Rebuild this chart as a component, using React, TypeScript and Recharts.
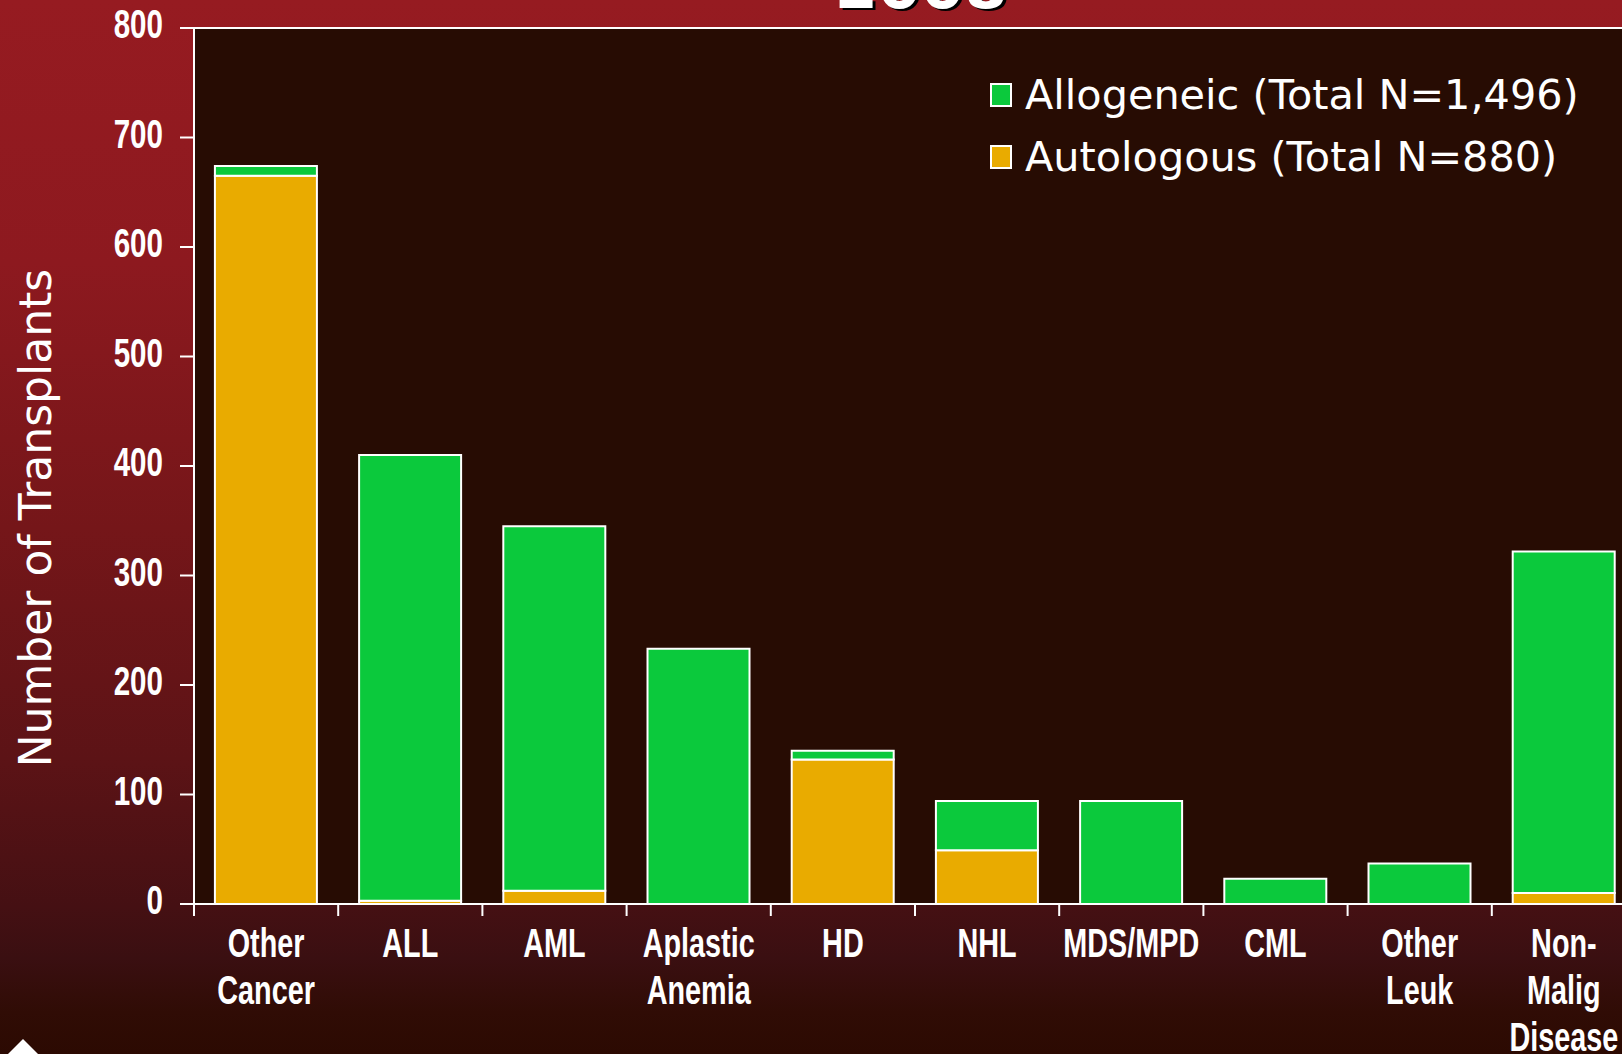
import React from "react";
import {
  BarChart,
  Bar,
  XAxis,
  YAxis,
  CartesianGrid,
  ReferenceLine,
  Legend,
} from "recharts";

// categories (line breaks as on the slide)
const categories = [
  "Other\nCancer",
  "ALL",
  "AML",
  "Aplastic\nAnemia",
  "HD",
  "NHL",
  "MDS/MPD",
  "CML",
  "Other\nLeuk",
  "Non-\nMalig\nDisease",
];
const allogeneic = [9, 407, 333, 233, 8, 45, 94, 23, 37, 312];
const autologous = [665, 3, 12, 0, 132, 49, 0, 0, 0, 10];
const yTicks = [0, 100, 200, 300, 400, 500, 600, 700, 800];
const legendLabels = ["Allogeneic (Total N=1,496)", "Autologous (Total N=880)"];
const title = "2008";

const data = categories.map((name, i) => ({
  name,
  allo: allogeneic[i],
  auto: autologous[i],
}));

const GREEN = "#0bc93c";
const ORANGE = "#e9ab00";
const PLOT_BG = "#270c03";
const NARROW = "'Liberation Sans Narrow', 'Arial Narrow', 'Liberation Sans', sans-serif";
const VERDANA = "'DejaVu Sans', Verdana, sans-serif";

const BAND = 144.2;
const AXIS_Y = 904;

function XTick(props: any) {
  const { x, payload, index } = props;
  const lines = String(payload.value).split("\n");
  return (
    <g>
      <line x1={x - BAND / 2} x2={x - BAND / 2} y1={AXIS_Y} y2={AXIS_Y + 12} stroke="#fff" strokeWidth={2} />
      {index === categories.length - 1 && (
        <line x1={x + BAND / 2} x2={x + BAND / 2} y1={AXIS_Y} y2={AXIS_Y + 12} stroke="#fff" strokeWidth={2} />
      )}
      <g transform={`translate(${x},0) scale(0.72,1)`}>
        {lines.map((l, i) => (
          <text
            key={i}
            x={0}
            y={957 + i * 47}
            textAnchor="middle"
            fill="#fff"
            fontFamily={NARROW}
            fontWeight="bold"
            fontSize={40}
          >
            {l}
          </text>
        ))}
      </g>
    </g>
  );
}

function YTick(props: any) {
  const { y, payload } = props;
  return (
    <g transform={`translate(163,${y + 10}) scale(0.74,1)`}>
      <text x={0} y={0} textAnchor="end" fill="#fff" fontFamily={NARROW} fontWeight="bold" fontSize={40}>
        {payload.value}
      </text>
    </g>
  );
}

function YLabel() {
  return (
    <text
      x={51}
      y={518}
      transform="rotate(-90, 51, 518)"
      textAnchor="middle"
      fill="#fff"
      fontFamily={VERDANA}
      fontSize={44}
    >
      Number of Transplants
    </text>
  );
}

function LegendBox() {
  const colors = [GREEN, ORANGE];
  return (
    <div>
      {legendLabels.map((t, i) => (
        <div key={t} style={{ display: "flex", alignItems: "center", height: 62 }}>
          <span
            style={{
              display: "inline-block",
              width: 18,
              height: 20,
              background: colors[i],
              border: "2px solid #fff",
              marginRight: 13,
            }}
          />
          <span style={{ color: "#fff", fontFamily: VERDANA, fontSize: 41.4, lineHeight: "62px", whiteSpace: "nowrap" }}>
            {t}
          </span>
        </div>
      ))}
    </div>
  );
}

export default function App() {
  return (
    <div
      style={{
        position: "fixed",
        left: 0,
        top: 0,
        width: 1622,
        height: 1054,
        overflow: "hidden",
        background:
          "linear-gradient(to bottom, #961b21 0%, #8d191f 25%, #751619 50%, #5c1316 72%, #451013 86%, #3a0f11 91%, #300c05 96%, #2c0a02 100%)",
      }}
    >
      <BarChart
        width={1660}
        height={1054}
        data={data}
        margin={{ top: 28, right: 24, bottom: 0, left: 0 }}
        barCategoryGap="14.5%"
      >
        <CartesianGrid horizontal={false} vertical={false} fill={PLOT_BG} />
        <XAxis
          dataKey="name"
          height={150}
          interval={0}
          tickLine={false}
          axisLine={{ stroke: "#fff", strokeWidth: 2 }}
          tick={<XTick />}
        />
        <YAxis
          width={194}
          domain={[0, 800]}
          ticks={yTicks}
          interval={0}
          tickSize={14}
          tickLine={{ stroke: "#fff", strokeWidth: 2 }}
          axisLine={{ stroke: "#fff", strokeWidth: 2 }}
          tick={<YTick />}
          label={<YLabel />}
        />
        <ReferenceLine y={800} stroke="#fff" strokeWidth={2} />
        <Legend
          layout="horizontal"
          verticalAlign="middle"
          align="center"
          content={<LegendBox />}
          wrapperStyle={{ position: "absolute", top: 64, left: 990, width: 630, height: 124 }}
        />
        <Bar dataKey="auto" stackId="a" fill={ORANGE} stroke="#fff" strokeWidth={2} isAnimationActive={false} />
        <Bar dataKey="allo" stackId="a" fill={GREEN} stroke="#fff" strokeWidth={2} isAnimationActive={false} />
      </BarChart>
      <svg
        width={1622}
        height={1054}
        style={{ position: "absolute", left: 0, top: 0, pointerEvents: "none" }}
      >
        <text x={924} y={10} textAnchor="middle" fill="#000" fontFamily={VERDANA} fontWeight="bold" fontSize={62}>
          {title}
        </text>
        <text x={921} y={8} textAnchor="middle" fill="#fff" fontFamily={VERDANA} fontWeight="bold" fontSize={62}>
          {title}
        </text>
        <polygon points="8,1054 23,1039 38,1054" fill="#fff" />
      </svg>
    </div>
  );
}
